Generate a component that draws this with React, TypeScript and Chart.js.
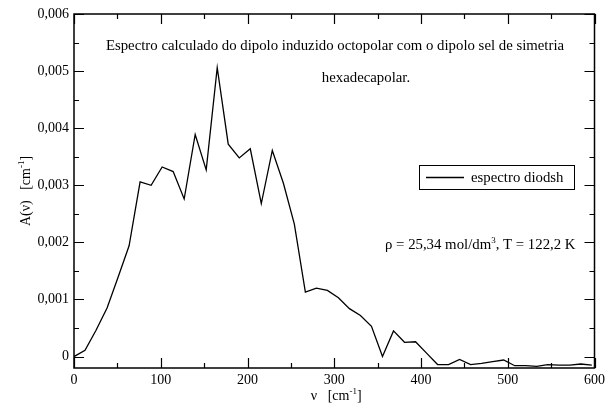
import React, { useEffect, useRef } from "react";
import { Chart, registerables } from "chart.js";

Chart.register(...registerables);

// ---- data ----
const frequencies = [
  0, 12.7, 25.4, 38.1, 50.8, 63.5, 76.2, 88.9, 101.6, 114.3, 127, 139.7, 152.4,
  165.1, 177.8, 190.5, 203.2, 215.9, 228.6, 241.3, 254, 266.7, 279.4, 292.1,
  304.8, 317.5, 330.2, 342.9, 355.6, 368.3, 381, 393.7, 406.4, 419.1, 431.8,
  444.5, 457.2, 469.9, 482.6, 495.3, 508, 520.7, 533.4, 546.1, 558.8, 571.5,
  584.2, 596.9,
];
const absorption = [
  0, 0.00011, 0.00046, 0.00085, 0.00139, 0.00194, 0.00306, 0.003, 0.00332,
  0.00324, 0.00276, 0.00389, 0.00327, 0.00506, 0.00372, 0.00348, 0.00364,
  0.00268, 0.00361, 0.00304, 0.00232, 0.00113, 0.0012, 0.00116, 0.00103,
  0.00084, 0.00072, 0.00053, 0.0, 0.00045, 0.00025, 0.00026, 0.00006,
  -0.00014, -0.00014, -0.00005, -0.00014, -0.00012, -0.00009, -0.00006,
  -0.00016, -0.00016, -0.00017, -0.00014, -0.00015, -0.00015, -0.00013,
  -0.00015,
];
const xTickValues = [0, 100, 200, 300, 400, 500, 600];
const xMinorValues = [50, 150, 250, 350, 450, 550];
const yTickValues = [0, 0.001, 0.002, 0.003, 0.004, 0.005, 0.006];
const yMinorValues = [0.0005, 0.0015, 0.0025, 0.0035, 0.0045, 0.0055];
const seriesLabel = "espectro diodsh";
const noteLine1 =
  "Espectro calculado do dipolo induzido octopolar com o dipolo sel de simetria";
const noteLine2 = "hexadecapolar.";

const FONT = "'Liberation Serif', 'Times New Roman', serif";
const NOTE_SIZE = 14.8;

type Part = { t: string; sup?: boolean };

function drawParts(
  ctx: CanvasRenderingContext2D,
  parts: Part[],
  x: number,
  y: number,
  size: number,
  align: "left" | "center"
) {
  const supSize = Math.round(size * 0.62);
  let total = 0;
  const widths = parts.map((p) => {
    ctx.font = `${p.sup ? supSize : size}px ${FONT}`;
    const w = ctx.measureText(p.t).width;
    total += w;
    return w;
  });
  let cx = align === "center" ? x - total / 2 : x;
  ctx.textBaseline = "alphabetic";
  ctx.textAlign = "left";
  parts.forEach((p, i) => {
    ctx.font = `${p.sup ? supSize : size}px ${FONT}`;
    ctx.fillText(p.t, cx, p.sup ? y - size * 0.42 : y);
    cx += widths[i];
  });
}

const framePlugin = {
  id: "framePlugin",
  afterDraw(chart: any) {
    const { ctx, chartArea } = chart;
    const { left, right, top, bottom } = chartArea;
    const xs = chart.scales.x;
    const ys = chart.scales.y;
    ctx.save();
    ctx.strokeStyle = "#000";
    ctx.fillStyle = "#000";
    ctx.lineWidth = 1.5;
    ctx.strokeRect(left, top, right - left, bottom - top);

    ctx.lineWidth = 1.2;
    const major = 10;
    const minor = 5;
    ctx.beginPath();
    xTickValues.forEach((v) => {
      const px = Math.round(xs.getPixelForValue(v)) + 0.5;
      ctx.moveTo(px, bottom);
      ctx.lineTo(px, bottom - major);
      ctx.moveTo(px, top);
      ctx.lineTo(px, top + major);
    });
    xMinorValues.forEach((v) => {
      const px = Math.round(xs.getPixelForValue(v)) + 0.5;
      ctx.moveTo(px, bottom);
      ctx.lineTo(px, bottom - minor);
      ctx.moveTo(px, top);
      ctx.lineTo(px, top + minor);
    });
    yTickValues.forEach((v) => {
      const py = Math.round(ys.getPixelForValue(v)) + 0.5;
      ctx.moveTo(left, py);
      ctx.lineTo(left + major, py);
      ctx.moveTo(right, py);
      ctx.lineTo(right - major, py);
    });
    yMinorValues.forEach((v) => {
      const py = Math.round(ys.getPixelForValue(v)) + 0.5;
      ctx.moveTo(left, py);
      ctx.lineTo(left + minor, py);
      ctx.moveTo(right, py);
      ctx.lineTo(right - minor, py);
    });
    ctx.stroke();

    // axis titles
    drawParts(
      ctx,
      [{ t: "ν   [cm" }, { t: "-1", sup: true }, { t: "]" }],
      (left + right) / 2 + 2,
      400,
      14,
      "center"
    );
    ctx.save();
    ctx.translate(30, 191);
    ctx.rotate(-Math.PI / 2);
    drawParts(
      ctx,
      [{ t: "A(ν)   [cm" }, { t: "-1", sup: true }, { t: "]" }],
      0,
      0,
      14,
      "center"
    );
    ctx.restore();

    // annotations
    drawParts(ctx, [{ t: noteLine1 }], 335, 50, NOTE_SIZE, "center");
    drawParts(ctx, [{ t: noteLine2 }], 366, 82, NOTE_SIZE, "center");
    drawParts(
      ctx,
      [
        { t: "ρ = 25,34 mol/dm" },
        { t: "3", sup: true },
        { t: ", T = 122,2 K" },
      ],
      385,
      249,
      NOTE_SIZE,
      "left"
    );

    // legend
    ctx.lineWidth = 1;
    ctx.strokeRect(419.5, 165.5, 155, 24);
    ctx.lineWidth = 1.3;
    ctx.beginPath();
    ctx.moveTo(426, 177.5);
    ctx.lineTo(464, 177.5);
    ctx.stroke();
    drawParts(ctx, [{ t: seriesLabel }], 471, 182, NOTE_SIZE, "left");
    ctx.restore();
  },
};

export default function App() {
  const ref = useRef<HTMLCanvasElement | null>(null);
  useEffect(() => {
    if (!ref.current) return;
    const chart = new Chart(ref.current, {
      type: "line",
      data: {
        datasets: [
          {
            label: seriesLabel,
            data: frequencies.map((x, i) => ({ x, y: absorption[i] })),
            borderColor: "#000",
            borderWidth: 1.3,
            pointRadius: 0,
            tension: 0,
            fill: false,
          },
        ],
      },
      options: {
        animation: false,
        responsive: false,
        maintainAspectRatio: false,
        layout: { padding: { top: 14, right: 12, left: 0, bottom: 0 } },
        plugins: {
          legend: { display: false },
          tooltip: { enabled: false },
        },
        scales: {
          x: {
            type: "linear",
            min: 0,
            max: 600,
            grid: { display: false, drawTicks: false },
            border: { display: false },
            afterBuildTicks: (s: any) => {
              s.ticks = xTickValues.map((v) => ({ value: v }));
            },
            afterFit: (s: any) => {
              s.height = 39;
            },
            ticks: {
              color: "#000",
              padding: 4,
              maxRotation: 0,
              autoSkip: false,
              font: { family: FONT, size: 14 },
              callback: (v: any) => String(v),
            },
          },
          y: {
            type: "linear",
            min: -0.0002,
            max: 0.006,
            grid: { display: false, drawTicks: false },
            border: { display: false },
            afterBuildTicks: (s: any) => {
              s.ticks = yTickValues.map((v) => ({ value: v }));
            },
            afterFit: (s: any) => {
              s.width = 74;
            },
            ticks: {
              color: "#000",
              padding: 5,
              autoSkip: false,
              font: { family: FONT, size: 14 },
              callback: (v: any) =>
                Number(v) === 0 ? "0" : Number(v).toFixed(3).replace(".", ","),
            },
          },
        },
      },
      plugins: [framePlugin],
    });
    return () => chart.destroy();
  }, []);
  return (
    <div
      style={{
        position: "fixed",
        left: 0,
        top: 0,
        width: 609,
        height: 407,
        background: "#fff",
      }}
    >
      <canvas ref={ref} width={609} height={407} />
    </div>
  );
}
